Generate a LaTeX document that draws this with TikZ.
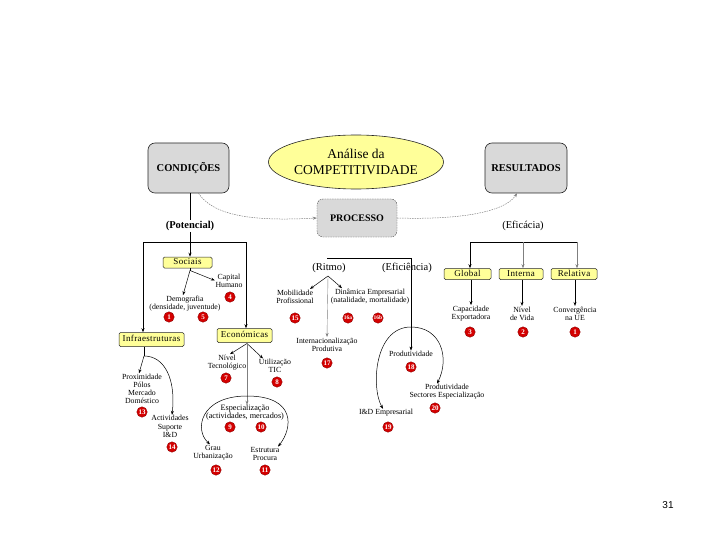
\documentclass[tikz,border=0pt]{standalone}
\usepackage{fontspec}
\setmainfont{Liberation Serif}
\newfontfamily\pagefont{Liberation Sans}
\usetikzlibrary{shapes.geometric,arrows.meta}
\definecolor{boxgray}{HTML}{D9D9D9}
\definecolor{paleyel}{HTML}{FFFF99}
\definecolor{badgered}{HTML}{D40000}
\definecolor{linegray}{HTML}{7F7F7F}
\begin{document}
\begin{tikzpicture}[x=1pt,y=-1pt,
  bigbox/.style={draw=black!85, fill=boxgray, rounded corners=7pt, minimum width=81pt, minimum height=50pt, font=\bfseries\fontsize{10.5}{12}\selectfont, line width=0.6pt},
  catbox/.style={draw=black!85, fill=paleyel, rounded corners=1.5pt, inner sep=0pt, minimum height=11pt, text height=6.2pt, text depth=1.8pt, font=\fontsize{9}{10}\selectfont\addfontfeature{LetterSpace=4}, line width=0.5pt},
  lbl/.style={align=center, inner sep=0.5pt, font=\fontsize{7.8}{8.2}\selectfont},
  num/.style={circle, fill=badgered, draw=red!50!black, line width=0.3pt, text=white, inner sep=0pt, minimum size=10.5pt, font=\bfseries\fontsize{7}{7}\selectfont},
  arr/.style={-{Stealth[length=4pt,width=3pt]}, line width=0.5pt},
  garr/.style={arr, draw=linegray},
  tline/.style={line width=0.6pt},
  hd/.style={inner sep=1pt, font=\fontsize{10.5}{12}\selectfont},
  dcurve/.style={draw=gray, line width=0.5pt, dash pattern=on 1.5pt off 1pt, -{Stealth[length=4pt,width=3pt]}}
]
\useasboundingbox (0,0) rectangle (720,540);

% top level
\node[bigbox] (cond) at (188.5,168) {CONDIÇÕES};
\node[bigbox, minimum width=82pt] (res) at (526,168) {RESULTADOS};
\node[ellipse, draw=black!85, fill=paleyel, line width=0.6pt, minimum width=126pt, minimum height=54pt, inner sep=0pt, align=center, font=\fontsize{13.5}{16}\selectfont] (ana) at (356,162) {Análise da\\COMPETITIVIDADE};
\node[draw=black!70, dash pattern=on 1.5pt off 1pt, fill=boxgray, rounded corners=6pt, minimum width=80pt, minimum height=38pt, font=\bfseries\fontsize{10}{12}\selectfont] (proc) at (357,218) {PROCESSO};

\draw[dcurve] ([xshift=10pt]cond.south) .. controls (215,218) and (260,221) .. (proc.west);
\draw[dcurve] (proc.east) .. controls (460,220) and (505,212) .. ([xshift=-9pt]res.south);

\node[hd, font=\bfseries\fontsize{10.5}{12}\selectfont] (pot) at (190,226) {(Potencial)};
\node[hd] (efi) at (523,226) {(Eficácia)};

% ---------- left (Potencial) ----------
\coordinate (pj) at (190,242);
\coordinate (pl) at (143,242);
\coordinate (pr) at (246,242);
\draw[tline] (cond.south -| pot) -- (pot.north);
\draw[tline] (pot.south) -- (pj);
\draw[tline] (pl) -- (pr);

\node[catbox, minimum width=49pt] (soc) at (187.5,262.5) {Sociais};
\node[catbox, minimum width=65pt, minimum height=14pt] (inf) at (151.5,339.5) {Infraestruturas};
\node[catbox, minimum width=55pt, minimum height=14pt] (eco) at (244.5,335.5) {Económicas};

\draw[arr] (pj) -- (soc.north -| pj);
\draw[arr] (pl) -- (inf.north -| pl);
\draw[arr] (pr) -- (eco.north -| pr);

% Sociais
\node[lbl] (caph) at (229,280.5) {Capital\\Humano};
\node[lbl] (demo) at (185,303.5) {Demografia\\(densidade, juventude)};
\node[num] (n4) at (230,297) {4};
\node[num] (n1) at (169,317) {1};
\node[num] (n5) at (203,317) {5};
\coordinate (sj) at (190,270.5);
\draw[tline] (soc.south -| sj) -- (sj);
\draw[arr] (sj) -- ([xshift=-2pt]demo.north);
\draw[arr] (sj) -- (caph.west);

% Infraestruturas
\node[lbl] (prox) at (142,389) {Proximidade\\Pólos\\Mercado\\Doméstico};
\node[num] (n13) at (142,412) {13};
\node[lbl] (activ) at (170,426.5) {Actividades\\Suporte\\I\&D};
\node[num] (n14) at (172,447) {14};
\coordinate (ij) at (144,356);
\draw[tline] (inf.south -| ij) -- (ij);
\draw[arr] (ij) -- ([xshift=-3pt]prox.north);
\draw[arr] (ij) .. controls (165,356) and (176,380) .. ([xshift=2pt]activ.north);

% Economicas
\node[lbl] (nivt) at (227,362.5) {Nível\\Tecnológico};
\node[num] (n7) at (226,378) {7};
\node[lbl] (util) at (275,366) {Utilização\\TIC};
\node[num] (n8) at (277,382) {8};
\node[lbl, font=\fontsize{8.2}{8.7}\selectfont] (espec) at (245,412.5) {Especialização\\(actividades, mercados)};
\node[num] (n9) at (230,427) {9};
\node[num] (n10) at (261,427) {10};
\node[lbl] (grau) at (213,452.5) {Grau\\Urbanização};
\node[num] (n12) at (216,470) {12};
\node[lbl] (estr) at (265,454) {Estrutura\\Procura};
\node[num] (n11) at (265,470) {11};
\coordinate (ej) at (247,343.5);
\draw[arr] (ej) -- ([xshift=3pt]nivt.north);
\draw[arr] (ej) -- ([xshift=-12pt]util.north);
\draw[garr] (ej) -- ([yshift=-1pt]espec.north -| ej);
\coordinate (et) at (247,396);
\draw[arr] (et) .. controls (200,396) and (194,430) .. ([xshift=-3pt]grau.north);
\draw[arr] (et) .. controls (296,396) and (293,428) .. ([xshift=13pt]estr.north);

% ---------- middle (Processo) ----------
\coordinate (ml) at (327,258);
\coordinate (mr) at (411,258);
\draw[tline] (ml) -- (mr);
\node[hd, font=\fontsize{10.5}{12}\selectfont] (rit) at (329,268) {(Ritmo)};
\node[hd, font=\fontsize{10.5}{12}\selectfont] (efc) at (407,268) {(Eficiência)};

\node[lbl] (mob) at (295,296.5) {Mobilidade\\Profissional};
\node[num] (n15) at (295,318) {15};
\node[lbl] (din) at (370,296.5) {Dinâmica Empresarial\\(natalidade, mortalidade)};
\node[num, font=\bfseries\fontsize{5.5}{5.5}\selectfont] (n16a) at (348,318) {16a};
\node[num, font=\bfseries\fontsize{5.5}{5.5}\selectfont] (n16b) at (378,318) {16b};
\node[lbl] (inter) at (327,344.5) {Internacionalização\\Produtiva};
\node[num] (n17) at (327,363) {17};
\coordinate (rj) at (328,276);
\draw[arr] (rj) -- ([xshift=15pt]mob.north);
\draw[arr] (rj) -- ([xshift=-28pt]din.north);
\draw[garr, line width=0.4pt] (rj) -- (inter.north);

\node[lbl] (prod) at (411,354) {Produtividade};
\node[num] (n18) at (411,367) {18};
\node[lbl] (pse) at (447,392) {Produtividade\\Sectores Especialização};
\node[num] (n20) at (435,408) {20};
\node[lbl] (ide) at (386,413) {I\&D Empresarial};
\node[num] (n19) at (388,427) {19};
\draw[arr, line width=0.4pt] (mr) -- (prod.north);
\coordinate (pt) at (411,327);
\draw[arr] (pt) .. controls (374,327) and (371,388) .. ([xshift=-3pt]ide.north);
\draw[arr] (pt) .. controls (441,327) and (450,358) .. ([xshift=-10pt]pse.north);

% ---------- right (Eficacia) ----------
\coordinate (rl) at (470,242);
\coordinate (rm) at (523,242);
\coordinate (rr) at (577,242);
\draw[tline] (rl) -- (rr);
\node[catbox, minimum width=47pt] (glob) at (467.5,274) {Global};
\node[catbox, minimum width=44pt] (intn) at (521,274) {Interna};
\node[catbox, minimum width=46pt] (rela) at (574,274) {Relativa};
\draw[arr, line width=0.7pt] (rl) -- (glob.north -| rl);
\draw[garr] (rm) -- (intn.north -| rm);
\draw[garr] (rr) -- (rela.north -| rr);

\node[lbl] (capx) at (471,313.5) {Capacidade\\Exportadora};
\node[lbl] (nvida) at (522,313.5) {Nível\\de Vida};
\node[lbl] (conv) at (575,313.5) {Convergência\\na UE};
\node[num] (n3) at (470,332) {3};
\node[num] (n2) at (523,332) {2};
\node[num] (nn1) at (575,332) {1};
\draw[arr] (glob.south -| capx) -- (capx.north);
\draw[arr] (intn.south -| nvida) -- (nvida.north);
\draw[arr] (rela.south -| conv) -- (conv.north);

% page number
\node[inner sep=0pt, font=\pagefont\fontsize{10}{12}\selectfont] (pg) at (668,505) {31};
\end{tikzpicture}
\end{document}
